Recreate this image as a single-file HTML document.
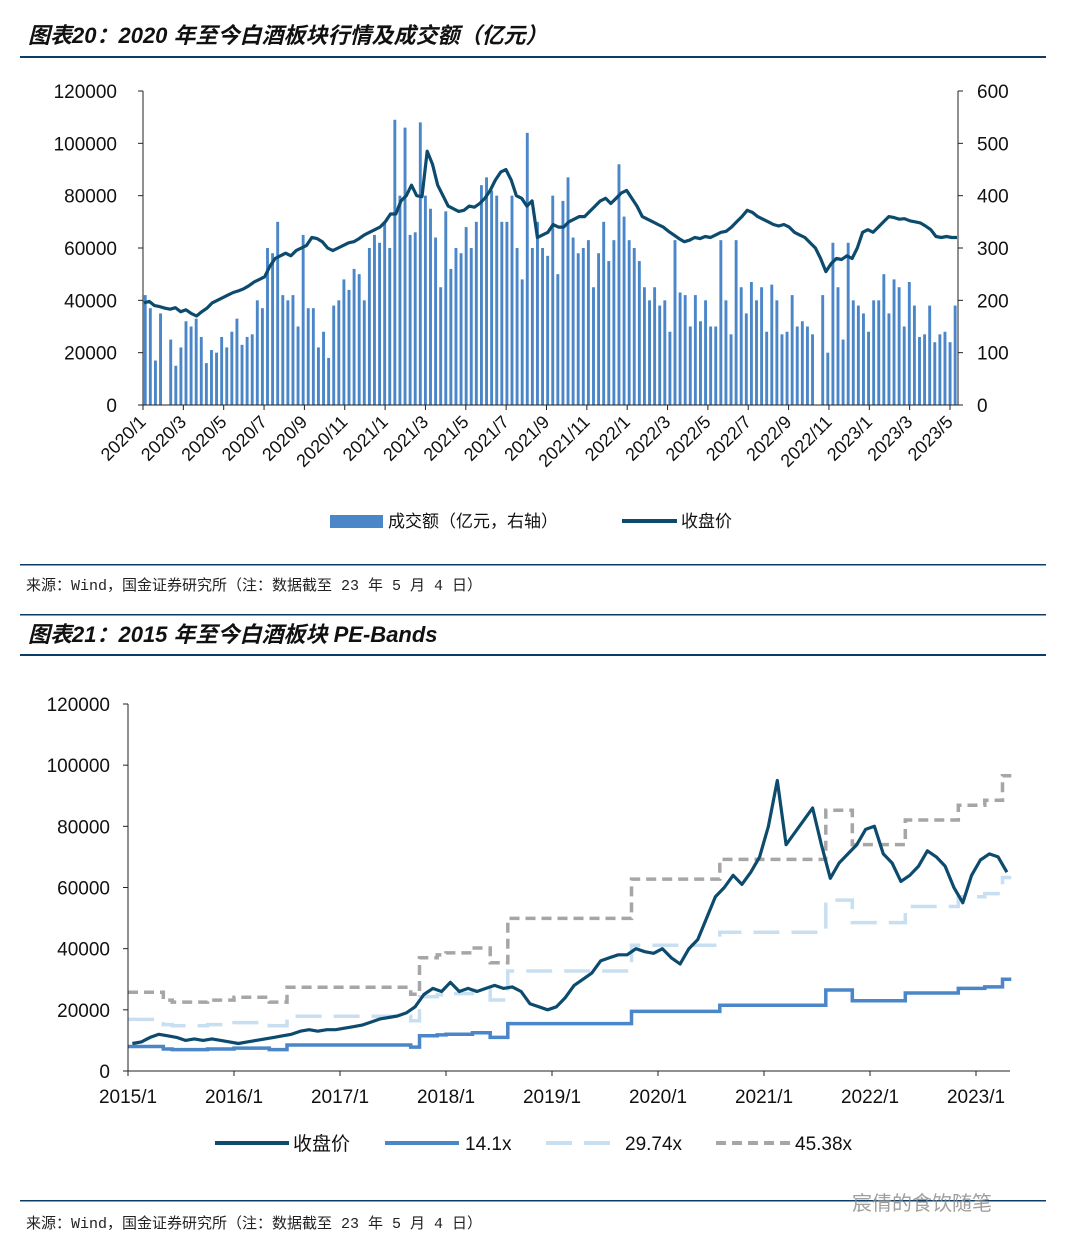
<!DOCTYPE html>
<html><head><meta charset="utf-8"><style>
body{margin:0;background:#fff;width:1067px;height:1249px;overflow:hidden;font-family:"Liberation Sans","Noto Sans CJK SC",sans-serif;}
svg text{font-family:"Liberation Sans","Noto Sans CJK SC",sans-serif;}
</style></head><body>
<svg id="s" width="1067" height="1249" xmlns="http://www.w3.org/2000/svg">
<text x="28" y="43" font-size="22" font-weight="bold" font-style="italic" fill="#111">图表20：2020 年至今白酒板块行情及成交额（亿元）</text>
<rect x="20" y="56" width="1026" height="2" fill="#0d3d66"/>
<g id="c1"></g>
<rect x="20" y="564" width="1026" height="1.5" fill="#0d3d66"/>
<text x="26" y="590" font-size="15" fill="#222" style="font-family:'Liberation Mono','Noto Sans CJK SC',monospace">来源：Wind，国金证券研究所（注：数据截至 23 年 5 月 4 日）</text>
<rect x="20" y="614" width="1026" height="1.5" fill="#0d3d66"/>
<text x="28" y="642" font-size="22" font-weight="bold" font-style="italic" fill="#111">图表21：2015 年至今白酒板块 PE-Bands</text>
<rect x="20" y="654" width="1026" height="2" fill="#0d3d66"/>
<g id="c2"></g>
<rect x="20" y="1200" width="1026" height="1.5" fill="#0d3d66"/>
<text x="26" y="1228" font-size="15" fill="#222" style="font-family:'Liberation Mono','Noto Sans CJK SC',monospace">来源：Wind，国金证券研究所（注：数据截至 23 年 5 月 4 日）</text>
<text x="852" y="1210" font-size="20" fill="#888" opacity="0.8">宸倩的食饮随笔</text>
</svg>
<script>
// ---------- Chart 1 data ----------
const c1Months = ["2020/1","2020/3","2020/5","2020/7","2020/9","2020/11","2021/1","2021/3","2021/5","2021/7","2021/9","2021/11","2022/1","2022/3","2022/5","2022/7","2022/9","2022/11","2023/1","2023/3","2023/5"];
const c1LeftTicks = [0,20000,40000,60000,80000,100000,120000];
const c1RightTicks = [0,100,200,300,400,500,600];
const c1Volume = [42000,37000,17000,35000, 0,25000,15000,22000, 32000,30000,33000,26000, 16000,21000,20000,26000,
 22000,28000,33000,23000, 26000,27000,40000,37000, 60000,58000,70000,42000, 40000,42000,30000,65000,
 37000,37000,22000,28000, 18000,38000,40000,48000, 44000,52000,50000,40000, 60000,65000,62000,70000,
 60000,109000,80000,106000, 65000,66000,108000,80000, 75000,64000,45000,74000, 52000,60000,58000,68000,
 60000,70000,84000,87000, 82000,80000,70000,70000, 80000,60000,48000,104000, 60000,70000,60000,57000,
 80000,50000,78000,87000, 64000,58000,60000,63000, 45000,58000,70000,55000, 63000,92000,72000,63000,
 60000,55000,45000,40000, 45000,38000,40000,28000, 63000,43000,42000,30000, 42000,32000,40000,30000,
 30000,63000,40000,27000, 63000,45000,35000,47000, 40000,45000,28000,46000, 40000,27000,28000,42000,
 30000,32000,30000,27000, 0,42000,20000,62000, 45000,25000,62000,40000, 38000,35000,28000,40000,
 40000,50000,35000,48000, 45000,30000,47000,38000, 26000,27000,38000,24000, 27000,28000,24000,38000];
const c1Close = [195,198,190,188, 185,183,186,178, 182,175,170,178, 185,195,200,205,
 210,215,218,222, 228,235,240,245, 265,280,285,290, 285,295,300,305,
 320,318,312,300, 295,300,305,310, 312,318,325,330, 335,340,350,365,
 365,390,400,420, 400,398,485,460, 420,400,380,375, 370,372,380,378,
 385,395,410,430, 445,450,430,400, 395,380,390,320, 325,330,345,340,
 340,350,355,360, 360,370,380,390, 395,385,395,405, 410,395,380,360,
 355,350,345,340, 332,325,318,312, 315,320,318,322, 320,325,330,332,
 340,350,360,372, 368,360,355,350, 345,342,345,340, 330,325,320,310,
 300,280,255,270, 280,278,285,280, 300,330,335,330, 340,350,360,358,
 355,356,352,350, 348,342,335,322, 320,322,320,320];

// ---------- Chart 2 data ----------
const c2Years = ["2015/1","2016/1","2017/1","2018/1","2019/1","2020/1","2021/1","2022/1","2023/1"];
const c2Ticks = [0,20000,40000,60000,80000,100000,120000];
const c2Close = [9000,9500,11000,12000,11500,11000,10000,10500,10000,10500,10000,9500,
 9000,9500,10000,10500,11000,11500,12000,13000,13500,13000,13500,13500,
 14000,14500,15000,16000,17000,17500,18000,19000,21000,25000,27000,26000,
 29000,26000,27000,26000,27000,28000,27000,27500,26000,22000,21000,20000,
 21000,24000,28000,30000,32000,36000,37000,38000,38000,40000,39000,38500,
 40000,37000,35000,40000,43000,50000,57000,60000,64000,61000,65000,70000,
 80000,95000,74000,78000,82000,86000,74000,63000,68000,71000,74000,79000,
 80000,71000,68000,62000,64000,67000,72000,70000,67000,60000,55000,64000,
 69000,71000,70000,65000];
const c2Band14 = [8000,8000,8000,8000,7200,7000,7000,7000,7000,7200,7200,7200,
 7500,7500,7500,7500,7000,7000,8500,8500,8500,8500,8500,8500,
 8500,8500,8500,8500,8500,8500,8500,8500,7800,11500,11500,11800,
 12000,12000,12000,12500,12500,11000,11000,15500,15500,15500,15500,15500,
 15500,15500,15500,15500,15500,15500,15500,15500,15500,19500,19500,19500,
 19500,19500,19500,19500,19500,19500,19500,21500,21500,21500,21500,21500,
 21500,21500,21500,21500,21500,21500,21500,26500,26500,26500,23000,23000,
 23000,23000,23000,23000,25500,25500,25500,25500,25500,25500,27000,27000,
 27000,27500,27500,30000];
const c2Mult = [1, 29.74/14.1, 45.38/14.1];

const NS="http://www.w3.org/2000/svg";
function mk(p,tag,at){const e=document.createElementNS(NS,tag);for(const k in at)e.setAttribute(k,at[k]);p.appendChild(e);return e;}

// Chart 1
(function(){
const g=document.getElementById('c1');
const x0=143,x1=958,yT=91,yB=405;
const yL=v=>yB-(v/120000)*(yB-yT);
const yR=v=>yB-(v/600)*(yB-yT);
const xm=i=>x0+i*((950-143)/40);
const n=c1Volume.length, bw=(x1-x0)/n;
c1Volume.forEach((v,i)=>{
 const r=mk(g,'rect',{x:x0+i*bw+0.8,y:yL(v),width:Math.max(bw-2.2,1.5),height:yB-yL(v),fill:'#4a86c8'});
 
 
});
const m=c1Close.length, step=(x1-x0-2)/(m-1);
const pts=c1Close.map((v,i)=>(x0+1+i*step).toFixed(1)+','+yR(v).toFixed(1)).join(' ');
const pl=mk(g,'polyline',{points:pts,fill:'none',stroke:'#0c4a6e','stroke-width':3.2,'stroke-linejoin':'round'});


mk(g,'line',{x1:x0,y1:yT,x2:x0,y2:yB,stroke:'#222'});
mk(g,'line',{x1:x1,y1:yT,x2:x1,y2:yB,stroke:'#222'});
mk(g,'line',{x1:x0,y1:yB,x2:x1,y2:yB,stroke:'#222'});
c1LeftTicks.forEach(v=>{mk(g,'line',{x1:x0-5,y1:yL(v),x2:x0,y2:yL(v),stroke:'#222'});
 const t=mk(g,'text',{x:117,y:yL(v)+7,'text-anchor':'end','font-size':19,fill:'#111'});t.textContent=v;
 });
c1RightTicks.forEach(v=>{mk(g,'line',{x1:x1,y1:yR(v),x2:x1+5,y2:yR(v),stroke:'#222'});
 const t=mk(g,'text',{x:977,y:yR(v)+7,'font-size':19,fill:'#111'});t.textContent=v;
 });
c1Months.forEach((mo,i)=>{const x=xm(i*2);
 mk(g,'line',{x1:x,y1:yB,x2:x,y2:yB+5,stroke:'#222'});
 const t=mk(g,'text',{x:x+4,y:yB+18,'text-anchor':'end','font-size':18,fill:'#111',transform:`rotate(-45 ${x+4} ${yB+18})`});t.textContent=mo;
 });
const lg=mk(g,'g',{});
mk(lg,'rect',{x:330,y:515,width:53,height:13,fill:'#4a86c8'});
let t=mk(lg,'text',{x:388,y:527,'font-size':17,fill:'#111'});t.textContent='成交额（亿元，右轴）';
mk(lg,'line',{x1:622,y1:521,x2:677,y2:521,stroke:'#0c4a6e','stroke-width':4});
t=mk(lg,'text',{x:681,y:527,'font-size':17,fill:'#111'});t.textContent='收盘价';
})();

// Chart 2
(function(){
const g=document.getElementById('c2');
const x0=128,x1=1010,yT=704,yB=1071,px=106/12;
const y=v=>yB-(v/120000)*(yB-yT);
const x=i=>x0+i*px;
const styles=[{c:'#4a86c8',d:'',n:'pe-14x-line'},{c:'#c8dff1',d:'26 12',n:'pe-29x-line'},{c:'#a6a6a6',d:'10 6',n:'pe-45x-line'}];
function stepPts(arr){let s=[];arr.forEach((v,i)=>{s.push(x(i).toFixed(1)+','+y(v).toFixed(1));s.push(x(i+1).toFixed(1)+','+y(v).toFixed(1));});return s.join(' ');}
[2,1,0].forEach(k=>{const arr=c2Band14.map(v=>v*c2Mult[k]);
 const p=mk(g,'polyline',{points:stepPts(arr),fill:'none',stroke:styles[k].c,'stroke-width':3.5,'stroke-dasharray':styles[k].d});
 });
const cp=mk(g,'polyline',{points:c2Close.map((v,i)=>x(i+0.5).toFixed(1)+','+y(v).toFixed(1)).join(' '),fill:'none',stroke:'#0c4a6e','stroke-width':3.2,'stroke-linejoin':'round'});

mk(g,'line',{x1:x0,y1:yT,x2:x0,y2:yB,stroke:'#222'});
mk(g,'line',{x1:x0,y1:yB,x2:x1,y2:yB,stroke:'#222'});
c2Ticks.forEach(v=>{mk(g,'line',{x1:x0-5,y1:y(v),x2:x0,y2:y(v),stroke:'#222'});
 const t=mk(g,'text',{x:110,y:y(v)+7,'text-anchor':'end','font-size':19,fill:'#111'});t.textContent=v;
 });
c2Years.forEach((mo,i)=>{const xx=x(i*12);
 mk(g,'line',{x1:xx,y1:yB,x2:xx,y2:yB+5,stroke:'#222'});
 const t=mk(g,'text',{x:xx,y:1103,'text-anchor':'middle','font-size':19,fill:'#111'});t.textContent=mo;
 });
const lg=mk(g,'g',{});
const items=[[215,'#0c4a6e','','收盘价',293],[385,'#4a86c8','','14.1x',465],[546,'#c8dff1','26 12','29.74x',625],[716,'#a6a6a6','10 6','45.38x',795]];
items.forEach(it=>{mk(lg,'line',{x1:it[0],y1:1143,x2:it[0]+74,y2:1143,stroke:it[1],'stroke-width':4,'stroke-dasharray':it[2]});
 const t=mk(lg,'text',{x:it[4],y:1150,'font-size':19,fill:'#111'});t.textContent=it[3];});
})();
</script>
</body></html>
